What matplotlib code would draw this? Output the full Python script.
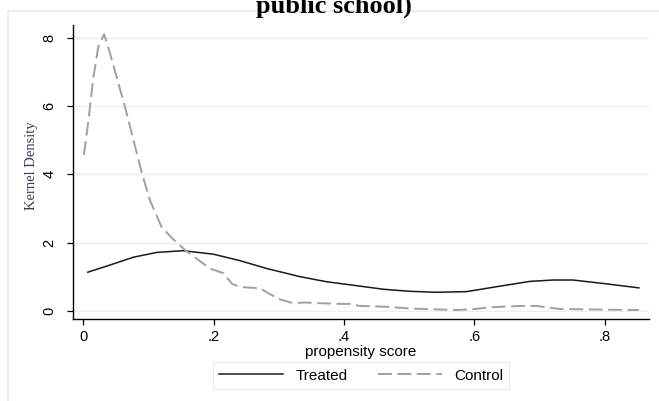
import matplotlib
matplotlib.use("Agg")
import matplotlib.pyplot as plt
from matplotlib.lines import Line2D

plt.rcParams['font.family'] = ['Liberation Sans', 'DejaVu Sans']
plt.rcParams['lines.scale_dashes'] = False

# kernel density of the propensity score
treated_x = [0.007, 0.041, 0.077, 0.113, 0.153, 0.199, 0.240, 0.281, 0.332, 0.373,
             0.409, 0.460, 0.500, 0.542, 0.588, 0.639, 0.685, 0.720, 0.751, 0.797, 0.852]
treated_y = [1.13, 1.34, 1.57, 1.71, 1.76, 1.66, 1.47, 1.24, 1.00, 0.85,
             0.76, 0.63, 0.57, 0.54, 0.56, 0.72, 0.86, 0.90, 0.90, 0.80, 0.67]

control_x = [0.001, 0.008, 0.015, 0.023, 0.032, 0.041, 0.064, 0.090, 0.102, 0.120,
             0.135, 0.156, 0.194, 0.215, 0.228, 0.240, 0.252, 0.271, 0.285, 0.302,
             0.322, 0.340, 0.363, 0.394, 0.409, 0.424, 0.460, 0.506, 0.540, 0.573,
             0.600, 0.624, 0.670, 0.695, 0.731, 0.772, 0.800, 0.852]
control_y = [4.57, 5.59, 6.77, 7.74, 8.11, 7.55, 5.98, 4.03, 3.25, 2.46,
             2.15, 1.78, 1.24, 1.10, 0.79, 0.70, 0.68, 0.66, 0.50, 0.33,
             0.22, 0.24, 0.22, 0.20, 0.20, 0.14, 0.12, 0.06, 0.04, 0.02,
             0.05, 0.10, 0.14, 0.14, 0.05, 0.04, 0.03, 0.02]

x_ticks = [0, 0.2, 0.4, 0.6, 0.8]
x_tick_labels = ['0', '.2', '.4', '.6', '.8']
y_ticks = [0, 2, 4, 6, 8]

fig = plt.figure(figsize=(6.59, 4.01), dpi=100)
ax = fig.add_axes([0.1112, 0.2045, 0.8736, 0.733])

# stata style graph region border
fig.add_artist(Line2D([8/659, 1.0], [1 - 11/401, 1 - 11/401], transform=fig.transFigure,
                      color='#e6eeee', lw=1.2))
fig.add_artist(Line2D([8/659, 8/659], [0.0, 1 - 11/401], transform=fig.transFigure,
                      color='#e6eeee', lw=1.2))

for yv in y_ticks:
    ax.axhline(yv, color='#e8f0f2', lw=1.0, zorder=0)

ax.plot(treated_x, treated_y, color='#1a1a1a', lw=1.1, label='Treated')
ax.plot(control_x, control_y, color='#a0a0a0', lw=1.4, dashes=(10, 4), label='Control')

ax.set_xlim(-0.0153, 0.8676)
ax.set_ylim(-0.243, 8.378)
ax.set_xticks(x_ticks)
ax.set_xticklabels(x_tick_labels)
ax.set_yticks(y_ticks)
ax.tick_params(axis='both', direction='out', length=4, width=0.9, labelsize=10.5)
ax.tick_params(axis='y', pad=8)
ax.tick_params(axis='x', pad=4)
for lbl in ax.get_yticklabels():
    lbl.set_rotation(90)
    lbl.set_va('center')

for side in ['top', 'right']:
    ax.spines[side].set_visible(False)
ax.spines['left'].set_linewidth(1.0)
ax.spines['bottom'].set_linewidth(1.0)

ax.set_xlabel('propensity score', fontsize=11, labelpad=1)
fig.text(31/659, 1 - 166/401, 'Kernel Density', rotation=90, ha='center', va='center',
         fontsize=10.5, family='Liberation Serif', color='#3a3a55')

fig.text(334/659, 1 - 13/401, 'public school)', ha='center', va='baseline',
         fontsize=19, fontweight='bold', family='Liberation Serif')

leg = fig.legend(loc='center', bbox_to_anchor=(361/659, 1 - 375.5/401), ncol=2,
                 fontsize=11, handlelength=4.2, columnspacing=2.0, handletextpad=0.8,
                 fancybox=False, borderpad=0.4)
leg.get_frame().set_edgecolor('#dde6e6')
leg.get_frame().set_linewidth(0.8)

fig.savefig('out.png', dpi=100)
